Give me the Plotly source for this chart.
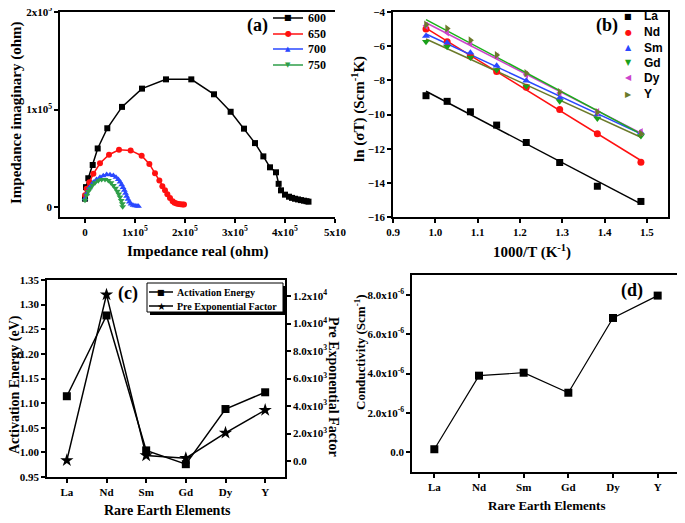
import numpy as np
import plotly.graph_objects as go

# The page body keeps an 8px margin, so the figure starts 8px in from the window's corner.
OFF = 8
W, H = 685 - OFF, 523 - OFF
def PX(x): return min(max((x - OFF) / W, 0), 1)
def PY(y): return min(max(1 - (y - OFF) / H, 0), 1)

# ---------- data (a) Nyquist ----------
a_600_x = [0, 2000, 6600, 15400, 25400, 44600, 74000, 114000, 162000, 212600, 258000, 291300, 318000, 340000,
           356700, 370000, 382000, 387300, 392000, 400000, 408000, 414000, 420000, 426000, 432000, 438000, 443000, 447000]
a_600_y = [8800, 20600, 29700, 43300, 60200, 80900, 102800, 121500, 131000, 131000, 115700, 97800, 80500, 65700,
           52100, 40900, 35800, 24000, 17300, 12900, 10800, 9600, 8700, 8000, 7300, 6700, 6200, 5700]
a_650_x = [0, 3300, 8700, 16700, 30000, 48000, 68000, 91300, 113300, 128700, 140000, 148700, 154700, 160000,
           164700, 170000, 175300, 179000, 183000, 187000, 191000, 195000, 198000]
a_650_y = [12200, 19000, 25700, 34200, 45000, 53800, 58900, 58200, 52800, 44400, 34800, 27400, 21600, 17300,
           13200, 9500, 6100, 4600, 3800, 3400, 3100, 2900, 2700]
a_700_x = [0, 3300, 8700, 16700, 23000, 30000, 36500, 43300, 50000, 56700, 62000, 66700, 70000, 73300, 76000,
           78700, 81000, 83300, 86000, 88700, 92000, 96000, 100000, 104000, 107000]
a_700_y = [8800, 13900, 20000, 25700, 28500, 30800, 32300, 33500, 33300, 32500, 30800, 28400, 25800, 23000, 20200,
           17300, 14300, 11200, 8200, 5400, 3200, 2000, 1500, 1200, 1000]
a_750_x = [0, 3300, 6500, 10000, 15000, 20000, 26500, 33300, 40000, 46700, 52000, 56700, 61000, 64700, 67500,
           70000, 72500, 74700, 75300]
a_750_y = [7100, 12200, 16000, 19000, 22500, 25000, 27200, 28400, 28300, 27400, 25200, 22300, 19500, 16500, 13500,
           10500, 7000, 3700, 500]
a_names = ["600", "650", "700", "750"]
a_xticks = [0, 100000, 200000, 300000, 400000, 500000]
a_xticktext = ["0", "1x10<sup>5</sup>", "2x10<sup>5</sup>", "3x10<sup>5</sup>", "4x10<sup>5</sup>", "5x10"]
a_yticks = [0, 100000, 200000]
a_yticktext = ["0", "1x10<sup>5</sup>", "2x10<sup>5</sup>"]

# ---------- data (b) Arrhenius ----------
b_x = [0.978, 1.028, 1.083, 1.145, 1.215, 1.294, 1.383, 1.486]
b_La = [-8.90, -9.23, -9.84, -10.62, -11.64, -12.81, -14.20, -15.09]
b_Nd = [-5.00, -5.74, -6.57, -7.48, -8.41, -9.71, -11.12, -12.79]
b_Sm = [-5.41, -5.80, -6.38, -7.15, -8.03, -9.03, -10.00, -11.06]
b_Gd = [-5.74, -6.03, -6.67, -7.39, -8.35, -9.23, -10.23, -11.26]
b_Dy = [-4.81, -5.20, -5.84, -6.61, -7.68, -8.74, -9.86, -11.03]
b_Y = [-4.74, -4.97, -5.65, -6.52, -7.58, -8.68, -9.85, -11.12]

# ---------- data (c) ----------
elements = ["La", "Nd", "Sm", "Gd", "Dy", "Y"]
act_energy = [1.114, 1.278, 1.004, 0.976, 1.088, 1.122]
pre_exp = [50, 12100, 400, 200, 2050, 3700]
c_rticks = [0, 2000, 4000, 6000, 8000, 10000, 12000]
c_rticktext = ["0.0", "2.0x10<sup>3</sup>", "4.0x10<sup>3</sup>", "6.0x10<sup>3</sup>", "8.0x10<sup>3</sup>",
               "1.0x10<sup>4</sup>", "1.2x10<sup>4</sup>"]

# ---------- data (d) ----------
conductivity = [0.14e-6, 3.89e-6, 4.04e-6, 3.02e-6, 6.83e-6, 7.97e-6]
d_yticks = [0, 2e-6, 4e-6, 6e-6, 8e-6]
d_yticktext = ["0.0", "2.0x10<sup>-6</sup>", "4.0x10<sup>-6</sup>", "6.0x10<sup>-6</sup>", "8.0x10<sup>-6</sup>"]

SERIF = "Liberation Serif"
SANS = "Liberation Sans"
GLYPH = "DejaVu Sans"

fig = go.Figure()

# (a)
a_style = [("#000000", "square", 6, "■", 8), ("#ff1010", "circle", 6, "●", 8),
           ("#2a48ff", "triangle-up", 6, "▲", 7), ("#2e9e48", "triangle-down", 6, "▼", 7)]
for name, xs, ys, (col, sym, sz, g, gs) in zip(a_names, [a_600_x, a_650_x, a_700_x, a_750_x],
                                              [a_600_y, a_650_y, a_700_y, a_750_y], a_style):
    fig.add_trace(go.Scatter(x=xs, y=ys, name=name, mode="lines+markers", xaxis="x", yaxis="y",
                             line=dict(color=col, width=1.5), marker=dict(symbol=sym, size=sz, color=col),
                             showlegend=False))

# (b)
b_series = [("La", b_La, "#000000", "square", "#000000", "■"),
            ("Nd", b_Nd, "#ff1010", "circle", "#ff1010", "●"),
            ("Sm", b_Sm, "#2a48ff", "triangle-up", "#2a48ff", "▲"),
            ("Gd", b_Gd, "#1aa01a", "triangle-down", "#6b7a2a", "▼"),
            ("Dy", b_Dy, "#cc44cc", "triangle-left", "#cc44cc", "◀"),
            ("Y", b_Y, "#6b7a2a", "triangle-right", "#18b018", "▶")]
bx = np.array(b_x)
for name, ys, col, sym, lcol, g in b_series:
    k, c0 = np.polyfit(bx, np.array(ys), 1)
    xf = np.array([bx.min(), bx.max()])
    fig.add_trace(go.Scatter(x=xf, y=k * xf + c0, mode="lines", xaxis="x2", yaxis="y2",
                             line=dict(color=lcol, width=1.5), showlegend=False, hoverinfo="skip"))
for name, ys, col, sym, lcol, g in b_series:
    fig.add_trace(go.Scatter(x=b_x, y=ys, name=name, mode="markers", xaxis="x2", yaxis="y2",
                             marker=dict(symbol=sym, size=7, color=col), showlegend=False))

# (c)
fig.add_trace(go.Scatter(x=elements, y=act_energy, name="Activation Energy", mode="lines+markers",
                         xaxis="x3", yaxis="y3", line=dict(color="black", width=1.5),
                         marker=dict(symbol="square", size=8, color="black"), showlegend=False))
fig.add_trace(go.Scatter(x=elements, y=pre_exp, name="Pre Exponential Factor", mode="lines+markers",
                         xaxis="x3", yaxis="y4", line=dict(color="black", width=1.5),
                         marker=dict(symbol="star", size=10, color="black"), showlegend=False))

# (d)
fig.add_trace(go.Scatter(x=elements, y=conductivity, mode="lines+markers", xaxis="x5", yaxis="y5",
                         line=dict(color="black", width=1.2), marker=dict(symbol="square", size=8, color="black"),
                         showlegend=False))

tickfont = dict(family=SERIF, size=11, color="black", weight="bold")
base = dict(showline=True, linecolor="black", linewidth=1.5, ticks="outside", ticklen=4, tickwidth=1.5,
            tickcolor="black", showgrid=False, zeroline=False, tickfont=tickfont, automargin=False,
            ticklabeloverflow="allow")

fig.update_layout(
    template="none",
    width=W, height=H, margin=dict(l=0, r=0, t=0, b=0, pad=0), plot_bgcolor="white", paper_bgcolor="white",
    showlegend=False,
    xaxis=dict(base, domain=[PX(60), PX(335)], range=[-50000, 500000], tickvals=a_xticks, ticktext=a_xticktext,
               anchor="y", mirror=True),
    yaxis=dict(base, domain=[PY(217), PY(12)], range=[-10000, 200000], tickvals=a_yticks, ticktext=a_yticktext,
               anchor="x"),
    xaxis2=dict(base, domain=[PX(393), PX(668)], range=[0.9, 1.55], dtick=0.1, tick0=0.9, tickformat=".1f",
                anchor="y2", mirror=True),
    yaxis2=dict(base, domain=[PY(217), PY(12)], range=[-16, -4], dtick=2, anchor="x2", mirror=True),
    xaxis3=dict(base, domain=[PX(47), PX(285)], type="category", range=[-0.5, 5.5], anchor="y3", mirror=True),
    yaxis3=dict(base, domain=[PY(477), PY(280)], range=[0.95, 1.35], dtick=0.05, tickformat=".2f", anchor="x3"),
    yaxis4=dict(base, overlaying="y3", side="right", range=[-1164, 13164], tickvals=c_rticks,
                ticktext=c_rticktext, anchor="x3"),
    xaxis5=dict(base, domain=[PX(412), PX(680)], type="category", range=[-0.5, 5.5], anchor="y5",
                mirror=True),
    yaxis5=dict(base, domain=[PY(472), PY(275)], range=[-1.02e-6, 9.02e-6], tickvals=d_yticks,
                ticktext=d_yticktext, anchor="x5", mirror=True),
)

def ann(text, x, y, size, angle=0, family=SERIF, color="black", xanchor="center", bold=True):
    fig.add_annotation(text=text, x=PX(x), y=PY(y), xref="paper", yref="paper", showarrow=False,
                       textangle=angle, xanchor=xanchor, yanchor="middle",
                       font=dict(family=family, size=size, color=color, weight="bold" if bold else "normal"))

def hline(x0, x1, y, color, width=1.5):
    fig.add_shape(type="line", xref="paper", yref="paper", x0=PX(x0), x1=PX(x1), y0=PY(y), y1=PY(y),
                  line=dict(color=color, width=width), layer="above")

# axis titles
ann("Impedance imaginary (ohm)", 16, 113, 15, -90)
ann("Impedance real (ohm)", 198, 252, 15)
ann("ln (σT) (Scm<sup>-1</sup>K)", 358, 109, 15, -90)
ann("1000/T (K<sup>-1</sup>)", 532, 252, 15)
ann("Activation Energy (eV)", 15, 385, 14, -90)
ann("Pre Exponential Factor", 334, 387, 14, 90)
ann("Rare Earth Elements", 167, 510, 14)
ann("Conductivity (Scm<sup>-1</sup>)", 360, 352, 13, -90)
ann("Rare Earth Elements", 546, 505, 13)
# panel labels
ann("(a)", 257, 25, 18)
ann("(b)", 607, 25, 18)
ann("(c)", 128, 293, 18)
ann("(d)", 632, 290, 18)

# legend (a)
a_rows = [18, 34, 49, 65]
for name, (col, sym, sz, g, gs), yy in zip(a_names, a_style, a_rows):
    hline(273, 303, yy, col)
    ann(g, 288, yy, gs, family=GLYPH, color=col, bold=False)
    ann(name, 306, yy, 12, xanchor="left")

# legend (b)
b_rows = [16, 32, 48, 63, 78, 94]
for (name, ys, col, sym, lcol, g), yy in zip(b_series, b_rows):
    ann(g, 628, yy, 8, family=GLYPH, color=col, bold=False)
    ann(name, 642, yy, 12, family=SANS, xanchor="left")

# legend (c) with drop shadow
fig.add_shape(type="rect", xref="paper", yref="paper", x0=PX(150), x1=PX(286), y0=PY(315), y1=PY(286),
              fillcolor="black", line=dict(width=0), layer="above")
fig.add_shape(type="rect", xref="paper", yref="paper", x0=PX(147), x1=PX(283), y0=PY(312), y1=PY(283),
              fillcolor="white", line=dict(color="black", width=1), layer="above")
for name, g, gs, yy in [("Activation Energy", "■", 8, 292), ("Pre Exponential Factor", "★", 10, 306)]:
    hline(149, 173, yy, "black")
    ann(g, 161, yy, gs, family=GLYPH, bold=False)
    ann(name, 175, yy, 10, xanchor="left")

fig.write_html("out.html")
